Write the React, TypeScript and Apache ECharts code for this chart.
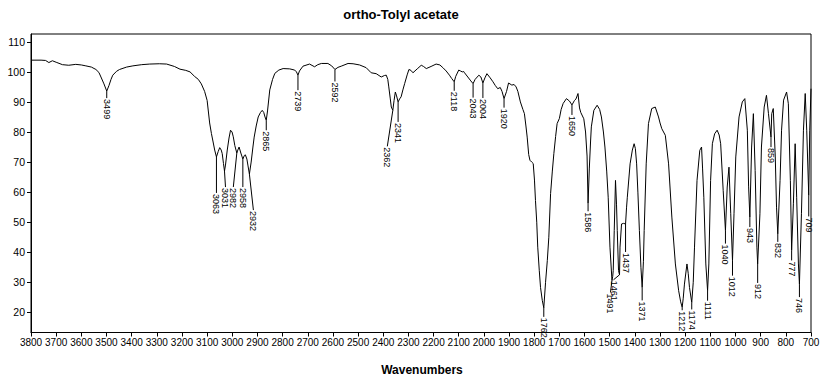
import React, { useEffect, useRef } from "react";
import * as echarts from "echarts";

// Spectrum: wavenumber (cm-1) and transmittance (%)
const wavenumbers = [
  3800, 3760, 3742, 3729, 3715, 3700, 3675, 3650, 3622, 3600, 3582, 3560, 3542, 3530, 3522, 3510, 3499, 3490, 3482, 3475,
  3460, 3448, 3420, 3395, 3360, 3328, 3290, 3261, 3230, 3208, 3185, 3168, 3150, 3135, 3123, 3110, 3100, 3090, 3083, 3077,
  3070, 3063, 3056, 3050, 3044, 3040, 3035, 3031, 3027, 3020, 3013, 3007, 3001, 2996, 2990, 2982, 2978, 2973, 2966, 2958,
  2952, 2948, 2942, 2938, 2932, 2925, 2918, 2913, 2905, 2897, 2888, 2881, 2875, 2870, 2865, 2860, 2851, 2840, 2831, 2815,
  2798, 2772, 2752, 2745, 2739, 2733, 2719, 2693, 2673, 2660, 2646, 2620, 2605, 2592, 2580, 2567, 2540, 2520, 2494, 2468,
  2455, 2448, 2428, 2408, 2395, 2388, 2382, 2378, 2372, 2368, 2362, 2357, 2352, 2347, 2341, 2335, 2329, 2322, 2315, 2305,
  2298, 2290, 2282, 2265, 2249, 2240, 2229, 2210, 2190, 2175, 2163, 2150, 2137, 2128, 2118, 2112, 2100, 2093, 2086, 2080,
  2077, 2064, 2052, 2043, 2035, 2020, 2012, 2004, 1996, 1988, 1975, 1964, 1955, 1945, 1935, 1928, 1920, 1910, 1902, 1889,
  1880, 1872, 1865, 1855, 1845, 1839, 1833, 1828, 1822, 1817, 1810, 1804, 1799, 1795, 1790, 1786, 1780, 1775, 1768, 1762,
  1755, 1748, 1742, 1735, 1728, 1722, 1715, 1709, 1700, 1693, 1685, 1672, 1660, 1650, 1640, 1634, 1626, 1620, 1615, 1603,
  1596, 1590, 1586, 1581, 1576, 1573, 1563, 1550, 1540, 1533, 1525, 1519, 1512, 1506, 1499, 1491, 1488, 1486, 1482, 1477,
  1473, 1470, 1465, 1461, 1459, 1453, 1445, 1437, 1433, 1430, 1419, 1410, 1403, 1398, 1393, 1388, 1382, 1376, 1371, 1366,
  1363, 1355, 1346, 1333, 1319, 1306, 1300, 1293, 1279, 1266, 1253, 1239, 1226, 1218, 1212, 1208, 1203, 1193, 1188, 1183,
  1174, 1168, 1163, 1153, 1142, 1135, 1131, 1126, 1118, 1111, 1106, 1099, 1092, 1083, 1073, 1065, 1059, 1049, 1040, 1033,
  1026, 1019, 1012, 1006, 999, 986, 973, 963, 953, 948, 943, 936, 929, 922, 915, 912, 903, 897, 886, 877,
  869, 859, 856, 850, 842, 837, 832, 823, 817, 809, 797, 790, 782, 777, 770, 763, 757, 750, 746, 738,
  730, 723, 717, 709, 705, 700,
];
const transmittance = [
  103.9, 103.9, 103.8, 103.1, 103.7, 103.2, 102.4, 102.2, 102.5, 102.3, 102.0, 101.6, 100.8, 99.8, 98.3, 96.0, 93.6, 95.5, 97.5, 98.9,
  100.2, 100.8, 101.6, 102.0, 102.4, 102.6, 102.7, 102.6, 101.8, 100.9, 100.5, 100.0, 98.5, 97.5, 96.0, 93.5, 90.5, 83.0, 79.5, 77.0,
  74.0, 71.7, 73.5, 74.8, 74.0, 72.8, 69.5, 67.0, 69.0, 74.0, 78.0, 80.6, 80.0, 78.4, 75.5, 73.0, 74.0, 75.0, 73.0, 71.0,
  72.2, 72.4, 71.0, 69.0, 66.0, 70.0, 75.0, 78.3, 82.0, 85.0, 86.5, 87.2, 86.5, 85.0, 83.9, 87.0, 94.0, 97.5, 99.5, 100.6,
  101.1, 101.0, 100.6, 100.0, 98.9, 100.3, 101.9, 102.6, 101.7, 102.4, 102.8, 102.8, 102.0, 100.8, 101.5, 101.9, 102.8, 102.7, 102.3, 101.4,
  100.3, 99.7, 99.4, 98.3, 98.8, 98.9, 97.5, 95.0, 91.0, 88.3, 87.2, 90.5, 93.3, 92.0, 90.0, 91.0, 91.7, 94.0, 96.1, 99.0,
  100.8, 100.5, 99.7, 101.0, 102.2, 101.8, 101.1, 101.8, 102.6, 102.3, 101.4, 100.3, 98.9, 97.8, 96.7, 98.5, 100.6, 100.3, 100.0, 100.1,
  99.7, 98.3, 97.0, 96.1, 97.5, 98.9, 98.3, 96.3, 98.0, 99.4, 98.0, 96.7, 95.5, 94.4, 94.8, 93.5, 91.1, 93.5, 96.3, 95.6,
  95.8, 95.0, 93.5, 90.0, 87.5, 86.1, 82.0, 78.3, 72.5, 70.6, 70.0, 69.5, 64.0, 57.2, 50.0, 41.7, 34.0, 28.3, 24.0, 21.5,
  30.0, 37.2, 45.0, 59.5, 67.0, 72.8, 78.5, 82.8, 84.5, 87.5, 89.5, 91.1, 90.3, 89.0, 90.5, 91.0, 92.8, 88.0, 86.5, 84.4,
  80.0, 72.0, 56.3, 68.0, 77.0, 81.7, 87.2, 88.9, 87.5, 85.0, 80.0, 75.0, 67.0, 58.3, 41.7, 30.6, 32.0, 33.9, 47.2, 63.9,
  56.0, 47.2, 33.9, 32.5, 41.7, 49.4, 49.6, 49.4, 55.0, 58.3, 69.4, 74.0, 76.1, 74.5, 69.4, 60.0, 47.2, 35.0, 28.3, 37.0,
  47.2, 69.4, 82.8, 87.8, 88.3, 85.0, 83.0, 81.1, 78.9, 69.4, 51.7, 36.1, 27.2, 23.5, 21.7, 24.5, 29.4, 36.1, 33.0, 28.3,
  23.3, 30.0, 41.7, 63.9, 73.9, 75.0, 68.0, 58.3, 36.1, 27.2, 36.1, 63.9, 76.1, 79.4, 80.6, 79.0, 76.1, 60.6, 47.2, 61.7,
  68.3, 52.8, 37.2, 52.8, 71.7, 85.0, 90.0, 91.1, 80.6, 62.0, 51.7, 75.0, 86.1, 67.2, 41.7, 36.1, 52.8, 75.0, 88.3, 92.2,
  86.1, 78.3, 86.1, 87.8, 71.7, 55.0, 46.1, 63.9, 80.6, 90.6, 93.3, 89.4, 63.9, 40.6, 56.1, 76.1, 58.3, 36.1, 29.4, 52.8,
  80.6, 92.8, 80.6, 58.9, 80.6, 94.4,
];

// Labelled peaks
const peakWn = [
  3499, 3063, 3031, 2982, 2958, 2932, 2865, 2739, 2592, 2362, 2341, 2118, 2043, 2004, 1920, 1762, 1650,
  1586, 1491, 1461, 1437, 1371, 1212, 1174, 1111, 1040, 1012, 943, 912, 859, 832, 777, 746, 709,
];
const peakVal = [
  93.6, 71.7, 67.0, 73.0, 71.0, 66.0, 83.9, 98.9, 100.8, 87.2, 90.0, 96.7, 96.1, 96.3, 91.1, 21.5, 89.0,
  56.3, 30.6, 32.5, 49.4, 28.3, 21.7, 23.3, 27.2, 47.2, 37.2, 51.7, 36.1, 78.3, 46.1, 40.6, 29.4, 58.9,
];

const yTicks = [20, 30, 40, 50, 60, 70, 80, 90, 100, 110];

// Layout of the peak labels (pixels): leader length and horizontal shift
const labelDrop = [7, 36, 16, 34, 28, 36, 10, 15, 12, 36, 20, 9, 14, 15, 9, 9, 10, 8, 12, 5, 28, 13, 3, 7, 10, 13, 15, 10, 19, 10, 8, 10, 13, 21];
const labelShift = [0, 0, 1, -3.5, 0, 4, 0, 0, 0, -5.5, 0, 0, 0, 0, 0, 0, 0, 0, -1.5, -6, 0, 0, 0, 0, 0, 0, 0, 0, 0, 0, 0, 0, 0, 0];

const FONT = '"Liberation Sans", Arial, Helvetica, sans-serif';

export default function App() {
  const ref = useRef<HTMLDivElement>(null);
  useEffect(() => {
    document.body.style.margin = "0";
    const chart = echarts.init(ref.current as HTMLDivElement, null, { renderer: "svg" });
    const spectrum = wavenumbers.map((w, i) => [w, transmittance[i]]);
    const peaks = peakWn.map((w, i) => [w, peakVal[i], i]);
    chart.setOption({
      animation: false,
      backgroundColor: "#ffffff",
      grid: {
        left: 31,
        right: 12,
        top: 34,
        bottom: 52.5,
        show: true,
        borderColor: "#000",
        borderWidth: 1,
        backgroundColor: "transparent",
      },
      xAxis: {
        type: "value",
        min: 700,
        max: 3800,
        interval: 100,
        inverse: true,
        axisLine: { show: true, onZero: false, lineStyle: { color: "#000", width: 1 } },
        axisTick: { show: true, length: 4, inside: false, lineStyle: { color: "#000" } },
        axisLabel: {
          color: "#000",
          fontSize: 10,
          fontFamily: FONT,
          margin: 5,
          showMinLabel: true,
          showMaxLabel: true,
          hideOverlap: false,
          formatter: (v: number) => String(v),
        },
        splitLine: { show: false },
      },
      yAxis: {
        type: "value",
        min: 13.3,
        max: 112.6,
        axisLine: { show: true, onZero: false, lineStyle: { color: "#000", width: 1 } },
        axisTick: { show: true, length: 4, customValues: yTicks, lineStyle: { color: "#000" } },
        axisLabel: {
          color: "#000",
          fontSize: 10.5,
          fontFamily: FONT,
          margin: 6,
          customValues: yTicks,
          formatter: (v: number) => String(v),
        },
        splitLine: { show: false },
      },
      graphic: [
        {
          type: "text",
          x: 401,
          y: 14.5,
          style: {
            text: "ortho-Tolyl acetate",
            font: `bold 13px ${FONT}`,
            fill: "#000",
            textAlign: "center",
            textVerticalAlign: "middle",
          },
        },
        {
          type: "text",
          x: 422,
          y: 370,
          style: {
            text: "Wavenumbers",
            font: `bold 12px ${FONT}`,
            fill: "#000",
            textAlign: "center",
            textVerticalAlign: "middle",
          },
        },
      ],
      series: [
        {
          type: "line",
          data: spectrum,
          showSymbol: false,
          symbol: "none",
          lineStyle: { color: "#000", width: 1 },
          silent: true,
        },
        {
          type: "custom",
          data: peaks,
          silent: true,
          renderItem: (params: any, api: any) => {
            const i = api.value(2);
            const p = api.coord([api.value(0), api.value(1)]);
            const x0 = p[0];
            const y0 = p[1];
            const x1 = x0 + labelShift[i];
            const y1 = y0 + labelDrop[i];
            return {
              type: "group",
              children: [
                {
                  type: "polyline",
                  shape: { points: [[x0, y0], [x1, y1]] },
                  style: { stroke: "#000", lineWidth: 1, fill: null },
                },
                {
                  type: "text",
                  x: x1,
                  y: y1 + 1,
                  rotation: -Math.PI / 2,
                  style: {
                    text: String(peakWn[i]),
                    font: `9px ${FONT}`,
                    fill: "#000",
                    textAlign: "left",
                    textVerticalAlign: "middle",
                  },
                },
              ],
            };
          },
        },
      ],
    });
    return () => chart.dispose();
  }, []);
  return (
    <div
      ref={ref}
      style={{ width: 823, height: 385, position: "absolute", left: 0, top: 0, background: "#fff" }}
    />
  );
}
